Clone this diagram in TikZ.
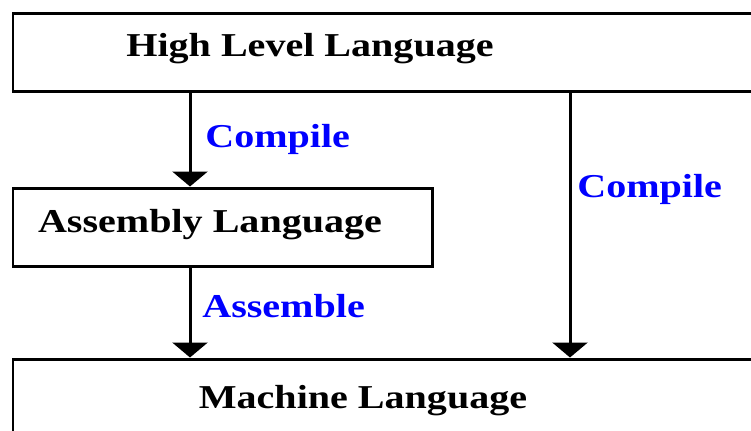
\documentclass[tikz,border=0pt]{standalone}
\usepackage{fontspec}
\setmainfont{Liberation Serif}[FakeStretch=1.2]
\usetikzlibrary{arrows.meta}

\tikzset{
  box/.style={draw, line width=0.06cm, inner sep=0pt},
  lang/.style={font=\bfseries\fontsize{19}{22}\selectfont, inner sep=0pt},
  step label/.style={font=\bfseries\fontsize{19}{22}\selectfont, text=blue, anchor=west, inner sep=0pt},
  flow/.style={line width=0.06cm, -{Triangle[width=0.7cm,length=0.3cm]}}
}

\begin{document}
\begin{tikzpicture}[x=0.02cm, y=-0.02cm]
  \useasboundingbox (0,0) rectangle (751,430);

  % the three language boxes (two of them run off the page)
  \node[box, minimum width=0.02cm*780, minimum height=0.02cm*78] (high) at (403,52) {};
  \node[box, minimum width=0.02cm*419, minimum height=0.02cm*78] (asm) at (222.5,227) {};
  \node[box, minimum width=0.02cm*780, minimum height=0.02cm*110] (mach) at (403,414) {};

  \node[lang] (hightext) at (310,49) {High Level Language};
  \node[lang] (asmtext) at (210,225) {Assembly Language};
  \node[lang] (machtext) at (363,401) {Machine Language};

  % where the arrows run
  \coordinate (left) at (190,0);
  \coordinate (right) at (570,0);

  \draw[flow] (high.south -| left) -- (asm.north -| left);
  \draw[flow] (asm.south -| left) -- (mach.north -| left);
  \draw[flow] (high.south -| right) -- (mach.north -| right);

  \node[step label] (compile1) at (205,139) {Compile};
  \node[step label] (assemble) at (202,306) {Assemble};
  \node[step label] (compile2) at (577,189) {Compile};
\end{tikzpicture}
\end{document}
